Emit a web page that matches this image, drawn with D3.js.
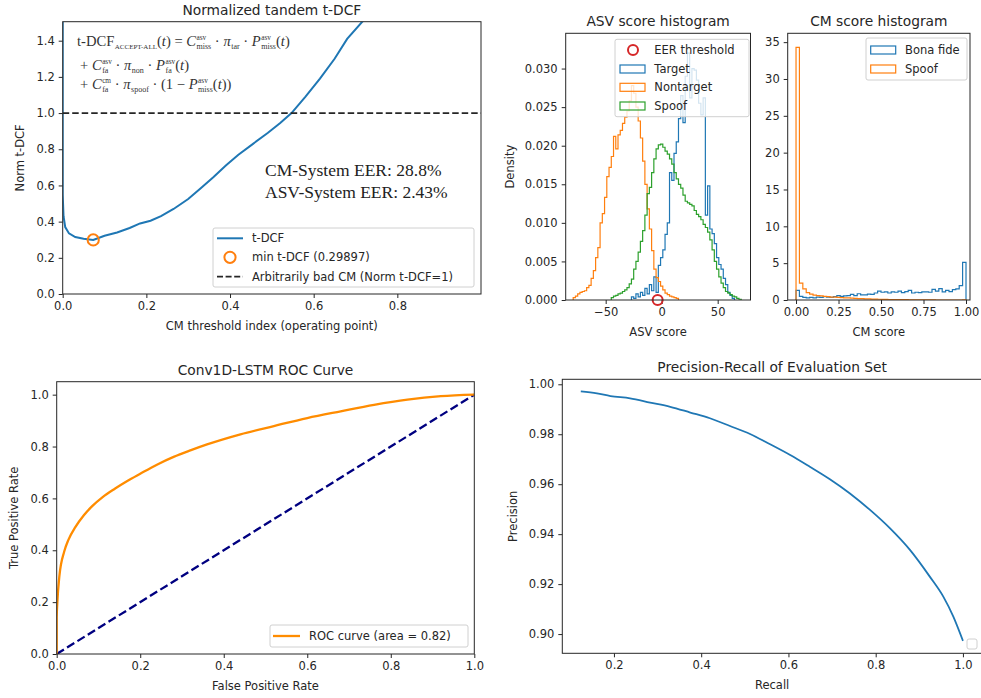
<!DOCTYPE html>
<html>
<head>
<meta charset="utf-8">
<script src="https://cdn.jsdelivr.net/npm/d3@7"></script>
<style>
body { margin: 0; background: #fff; }
svg { display: block; font-family: "DejaVu Sans", sans-serif; }
.tick text { fill: #262626; font-size: 11.5px; }
.tick line { stroke: #262626; }
.lbl { fill: #262626; font-size: 11.5px; }
.ttl { fill: #262626; font-size: 13.8px; }
</style>
</head>
<body>
<svg id="fig" width="981" height="698"></svg>
<script>
// ---- data ----
// normalized tandem t-DCF curve
const tdcfX = [0, 0, 0.002, 0.006, 0.015, 0.03, 0.05, 0.073, 0.1, 0.13, 0.16, 0.185, 0.21, 0.235, 0.265, 0.3, 0.33, 0.36, 0.39, 0.42, 0.455, 0.49, 0.52, 0.547, 0.58, 0.615, 0.65, 0.68, 0.722];
const tdcfY = [1.6, 0.55, 0.43, 0.37, 0.335, 0.315, 0.305, 0.299, 0.322, 0.34, 0.365, 0.39, 0.405, 0.43, 0.47, 0.525, 0.585, 0.645, 0.71, 0.77, 0.83, 0.89, 0.945, 1.0, 1.09, 1.19, 1.3, 1.41, 1.52];
const minTdcf = { x: 0.073, y: 0.29897 };

// ASV score histograms (density, bins of width 2)
const asvBinWidth = 2;
const targetStart = -27;
const target = [0.0004, 0.0002, 0.0008, 0.0004, 0.0010, 0.0006, 0.0015, 0.0008, 0.0020, 0.0012, 0.0030, 0.0010, 0.0045,
  0.0055, 0.0065, 0.0085, 0.0100, 0.0165, 0.0155, 0.0190, 0.0205, 0.0235, 0.0265, 0.0230, 0.0290, 0.0320, 0.0262, 0.0300, 0.0298, 0.0285, 0.0255, 0.0240, 0.0262, 0.0110,
  0.0148, 0.0092, 0.0086, 0.0073, 0.0055, 0.0046, 0.0040, 0.0028, 0.0020, 0.0010, 0.0006, 0.0002];
const nontargetStart = -79;
const nontarget = [0.0003, 0.0005, 0.0008, 0.0010, 0.0011, 0.0012, 0.0016, 0.0019, 0.0028, 0.0038, 0.0055, 0.0068, 0.0100, 0.0112, 0.0133, 0.0160, 0.0172, 0.0186, 0.0212, 0.0196,
  0.0214, 0.0220, 0.0229, 0.0237, 0.0245, 0.0258, 0.0278, 0.0268, 0.0250, 0.0232, 0.0210, 0.0180, 0.0150, 0.0118, 0.0092, 0.0064, 0.0040, 0.0029, 0.0024, 0.0018,
  0.0013, 0.0009, 0.0007, 0.0005, 0.0004, 0.0003, 0.0002];
const spoofAsvStart = -45;
const spoofAsv = [0.0003, 0.0005, 0.0006, 0.0008, 0.0009, 0.0011, 0.0013, 0.0016, 0.0021, 0.0027, 0.0040, 0.0050, 0.0062, 0.0076, 0.0090, 0.0110, 0.0138, 0.0146, 0.0165, 0.0183, 0.0196, 0.0201,
  0.0202, 0.0198, 0.0193, 0.0189, 0.0183, 0.0176, 0.0165, 0.0157, 0.0150, 0.0145, 0.0136, 0.0128, 0.0126, 0.0124, 0.0122, 0.0116, 0.0111, 0.0108, 0.0104, 0.0098, 0.0094,
  0.0088, 0.0078, 0.0065, 0.0050, 0.0040, 0.0030, 0.0022, 0.0016, 0.0011, 0.0009, 0.0007, 0.0005, 0.0004, 0.0002, 0.0001];
const eerThreshold = -3.6;

// CM score histograms (density, 50 bins on [0, 1])
const cmBinWidth = 0.02;
const bonaFide = [1.3, 0.5, 0.35, 0.3, 0.35, 0.3, 0.4, 0.35, 0.45, 0.4, 0.35, 0.45, 0.6, 0.5, 0.55, 0.6, 0.75, 0.6, 0.85, 0.7, 0.7, 0.8, 0.75, 0.95, 1.2,
  1.05, 1.1, 0.95, 1.1, 1.05, 1.2, 1.0, 1.15, 1.3, 0.95, 1.05, 1.0, 1.1, 1.1, 1.05, 1.45, 1.2, 1.55, 1.1, 1.3, 1.15, 1.4, 1.5, 1.95, 5.1];
const spoofCm = [34.3, 2.3, 1.5, 1.0, 0.8, 0.65, 0.6, 0.55, 0.5, 0.45, 0.4, 0.38, 0.35, 0.32, 0.3, 0.28, 0.25, 0.22, 0.2, 0.18, 0.16, 0.15, 0.13, 0.12, 0.1,
  0.09, 0.08, 0.07, 0.06, 0.05, 0.05, 0.04, 0.04, 0.03, 0.03, 0.02, 0.02, 0.02, 0.01, 0.01, 0.01, 0, 0, 0, 0, 0, 0, 0, 0, 0.01];

// ROC curve
const fpr = [0, 0, 0.0016, 0.0064, 0.018, 0.028, 0.045, 0.065, 0.085, 0.11, 0.14, 0.17, 0.2, 0.24, 0.28, 0.32, 0.36, 0.44, 0.52, 0.6, 0.68, 0.76, 0.84, 0.92, 1.0];
const tpr = [0, 0.14, 0.2, 0.3, 0.395, 0.44, 0.49, 0.535, 0.57, 0.605, 0.638, 0.668, 0.695, 0.73, 0.76, 0.785, 0.808, 0.847, 0.879, 0.91, 0.936, 0.961, 0.981, 0.994, 1.0];
const rocAuc = 0.82;

// precision-recall curve
const recall = [0.124, 0.161, 0.192, 0.237, 0.283, 0.329, 0.375, 0.42, 0.466, 0.512, 0.558, 0.604, 0.649, 0.695, 0.741, 0.787, 0.833, 0.879, 0.924, 0.955, 0.978, 1.0];
const precision = [0.9972, 0.9964, 0.9953, 0.9944, 0.9927, 0.991, 0.9887, 0.9864, 0.9833, 0.9801, 0.976, 0.9717, 0.967, 0.962, 0.9563, 0.9497, 0.9423, 0.9336, 0.923, 0.915, 0.907, 0.8973];

// tick values
const tdcfXTicks = [0, 0.2, 0.4, 0.6, 0.8];
const tdcfYTicks = [0, 0.2, 0.4, 0.6, 0.8, 1.0, 1.2, 1.4];
const asvXTicks = [-50, 0, 50];
const asvYTicks = [0, 0.005, 0.01, 0.015, 0.02, 0.025, 0.03];
const cmXTicks = [0, 0.25, 0.5, 0.75, 1.0];
const cmYTicks = [0, 5, 10, 15, 20, 25, 30, 35];
const unitTicks = [0, 0.2, 0.4, 0.6, 0.8, 1.0];
const recallTicks = [0.2, 0.4, 0.6, 0.8, 1.0];
const precTicks = [0.90, 0.92, 0.94, 0.96, 0.98, 1.00];

const C = { blue: "#1f77b4", orange: "#ff7f0e", green: "#2ca02c", red: "#d62728", dark: "#262626" };
const svg = d3.select("#fig");
const minus = s => s.replace("-", "\u2212");

let clipId = 0;
function makeAxes(o) {
  const x = d3.scaleLinear().domain(o.xDomain).range([o.left, o.right]);
  const y = d3.scaleLinear().domain(o.yDomain).range([o.bottom, o.top]);
  const g = svg.append("g");
  const id = "clip" + (clipId++);
  svg.append("clipPath").attr("id", id).append("rect")
    .attr("x", o.left).attr("y", o.top).attr("width", o.right - o.left).attr("height", o.bottom - o.top);
  const plot = g.append("g").attr("clip-path", `url(#${id})`);

  const xa = g.append("g").attr("transform", `translate(0,${o.bottom})`)
    .call(d3.axisBottom(x).tickValues(o.xTicks).tickFormat(d => minus(d3.format(o.xFmt)(d))).tickSize(4).tickPadding(4));
  const ya = g.append("g").attr("transform", `translate(${o.left},0)`)
    .call(d3.axisLeft(y).tickValues(o.yTicks).tickFormat(d => minus(d3.format(o.yFmt)(d))).tickSize(4).tickPadding(4));
  xa.select(".domain").remove();
  ya.select(".domain").remove();
  g.selectAll(".tick text").attr("font-family", "DejaVu Sans");

  g.append("text").attr("class", "ttl").attr("x", (o.left + o.right) / 2).attr("y", o.top - 7)
    .attr("text-anchor", "middle").text(o.title);
  g.append("text").attr("class", "lbl").attr("x", (o.left + o.right) / 2).attr("y", o.bottom + 36)
    .attr("text-anchor", "middle").text(o.xLabel);
  if (o.yLabel) {
    g.append("text").attr("class", "lbl").attr("text-anchor", "middle")
      .attr("transform", `translate(${o.yLabelX},${(o.top + o.bottom) / 2}) rotate(-90)`)
      .attr("dy", "0.35em").text(o.yLabel);
  }
  // spines on top
  const spines = svg.append("rect").attr("x", o.left).attr("y", o.top)
    .attr("width", o.right - o.left).attr("height", o.bottom - o.top)
    .attr("fill", "none").attr("stroke", C.dark).attr("stroke-width", 1);
  return { x, y, g, plot, spines };
}

function legendBox(g, x0, y0, w, h) {
  g.append("rect").attr("x", x0).attr("y", y0).attr("width", w).attr("height", h)
    .attr("rx", 2).attr("fill", "#fff").attr("fill-opacity", 0.8).attr("stroke", "#d0d0d0");
}

function stepPath(start, width, vals) {
  const pts = [[start, 0]];
  vals.forEach((v, i) => { pts.push([start + i * width, v]); pts.push([start + (i + 1) * width, v]); });
  pts.push([start + vals.length * width, 0]);
  return pts;
}

// ---------------- panel A: normalized tandem t-DCF ----------------
const A = makeAxes({
  left: 62.7, right: 481, top: 21.7, bottom: 294,
  xDomain: [0, 1.0], yDomain: [0, 1.505],
  xTicks: tdcfXTicks, yTicks: tdcfYTicks, xFmt: ".1f", yFmt: ".1f",
  title: "Normalized tandem t-DCF", xLabel: "CM threshold index (operating point)",
  yLabel: "Norm t-DCF", yLabelX: 20
});
A.plot.append("path")
  .datum(tdcfX.map((d, i) => [d, tdcfY[i]]))
  .attr("d", d3.line().x(d => A.x(d[0])).y(d => A.y(d[1])))
  .attr("fill", "none").attr("stroke", C.blue).attr("stroke-width", 2);
A.plot.append("line").attr("x1", A.x(0)).attr("x2", A.x(1.0)).attr("y1", A.y(1)).attr("y2", A.y(1))
  .attr("stroke", C.dark).attr("stroke-width", 1.8).attr("stroke-dasharray", "6.5,3");
A.plot.append("circle").attr("cx", A.x(minTdcf.x)).attr("cy", A.y(minTdcf.y)).attr("r", 5.6)
  .attr("fill", "none").attr("stroke", C.orange).attr("stroke-width", 2);

// formula (non-breaking spaces so the gaps survive)
const S = "\u00a0";
const mathG = A.g.append("g").attr("font-family", "Liberation Serif, serif").attr("fill", "#333");
function mathLine(x, y, tokens, fs) {
  let cx = x;
  tokens.forEach(tk => {
    const t = mathG.append("text").attr("x", cx).attr("y", y).attr("font-size", fs)
      .attr("font-style", tk.i ? "italic" : "normal").text(tk.t);
    const w = t.node().getComputedTextLength();
    let sw = 0;
    if (tk.sup) {
      const s = mathG.append("text").attr("x", cx + w + 0.5).attr("y", y - fs * 0.42).attr("font-size", fs * 0.5).text(tk.sup);
      sw = Math.max(sw, s.node().getComputedTextLength() + 0.5);
    }
    if (tk.sub) {
      const s = mathG.append("text").attr("x", cx + w + 0.5).attr("y", y + fs * 0.2).attr("font-size", fs * (tk.small || 0.55)).text(tk.sub);
      sw = Math.max(sw, s.node().getComputedTextLength() + 0.5);
    }
    cx += w + sw;
  });
}
const fs = 14.6;
const dot = S + "·" + S;
mathLine(77, 46, [
  { t: "t-DCF", sub: "ACCEPT-ALL", small: 0.48 }, { t: "(" }, { t: "t", i: true }, { t: ")" + S + "=" + S },
  { t: "C", i: true, sup: "asv", sub: "miss" }, { t: dot }, { t: "π", i: true, sub: "tar" }, { t: dot },
  { t: "P", i: true, sup: "asv", sub: "miss" }, { t: "(" }, { t: "t", i: true }, { t: ")" }
], fs);
mathLine(80, 70, [
  { t: "+" + S }, { t: "C", i: true, sup: "asv", sub: "fa" }, { t: dot }, { t: "π", i: true, sub: "non" }, { t: dot },
  { t: "P", i: true, sup: "asv", sub: "fa" }, { t: "(" }, { t: "t", i: true }, { t: ")" }
], fs);
mathLine(80, 89, [
  { t: "+" + S }, { t: "C", i: true, sup: "cm", sub: "fa" }, { t: dot }, { t: "π", i: true, sub: "spoof" }, { t: dot + "(1" + S + "−" + S },
  { t: "P", i: true, sup: "asv", sub: "miss" }, { t: "(" }, { t: "t", i: true }, { t: "))" }
], fs);

A.g.append("text").attr("x", 265).attr("y", 176).attr("font-family", "Liberation Serif, serif")
  .attr("font-size", 17.5).attr("fill", "#222").text("CM-System EER: 28.8%");
A.g.append("text").attr("x", 265).attr("y", 197.5).attr("font-family", "Liberation Serif, serif")
  .attr("font-size", 17.5).attr("fill", "#222").text("ASV-System EER: 2.43%");

// legend A
legendBox(A.g, 213, 228, 261, 59);
A.g.append("line").attr("x1", 217).attr("x2", 243).attr("y1", 238.3).attr("y2", 238.3).attr("stroke", C.blue).attr("stroke-width", 2);
A.g.append("circle").attr("cx", 230).attr("cy", 257.3).attr("r", 5.6).attr("fill", "none").attr("stroke", C.orange).attr("stroke-width", 2);
A.g.append("line").attr("x1", 217).attr("x2", 243).attr("y1", 276.7).attr("y2", 276.7).attr("stroke", C.dark)
  .attr("stroke-width", 1.8).attr("stroke-dasharray", "6,2.6");
[["t-DCF", 238.3], ["min t-DCF (0.29897)", 257.3], ["Arbitrarily bad CM (Norm t-DCF=1)", 276.7]].forEach(([t, yy]) =>
  A.g.append("text").attr("class", "lbl").attr("x", 252).attr("y", yy).attr("dy", "0.35em").text(t));

// ---------------- panel B: ASV score histogram ----------------
const B = makeAxes({
  left: 565.7, right: 750.5, top: 33.3, bottom: 300,
  xDomain: [-85.7, 79.3], yDomain: [0, 0.03457],
  xTicks: asvXTicks, yTicks: asvYTicks, xFmt: "d", yFmt: ".3f",
  title: "ASV score histogram", xLabel: "ASV score", yLabel: "Density", yLabelX: 510
});
const histLine = s => d3.line().x(d => s.x(d[0])).y(d => s.y(d[1]));
[[target, targetStart, C.blue], [nontarget, nontargetStart, C.orange], [spoofAsv, spoofAsvStart, C.green]].forEach(([vals, st, col]) =>
  B.plot.append("path").datum(stepPath(st, asvBinWidth, vals)).attr("d", histLine(B))
    .attr("fill", "none").attr("stroke", col).attr("stroke-width", 1.2));
B.g.append("circle").attr("cx", B.x(eerThreshold)).attr("cy", B.y(0)).attr("r", 5)
  .attr("fill", "none").attr("stroke", C.red).attr("stroke-width", 2);
legendBox(B.g, 615, 39.3, 134, 77.4);
B.g.append("circle").attr("cx", 633).attr("cy", 50).attr("r", 5).attr("fill", "none").attr("stroke", C.red).attr("stroke-width", 2);
[["Target", C.blue, 69], ["Nontarget", C.orange, 87.3], ["Spoof", C.green, 106]].forEach(([t, col, yy]) =>
  B.g.append("rect").attr("x", 620).attr("y", yy - 4).attr("width", 25).attr("height", 8)
    .attr("fill", "none").attr("stroke", col).attr("stroke-width", 1.2));
[["EER threshold", 50], ["Target", 69], ["Nontarget", 87.3], ["Spoof", 106]].forEach(([t, yy]) =>
  B.g.append("text").attr("class", "lbl").attr("x", 654.3).attr("y", yy).attr("dy", "0.35em").text(t));

// ---------------- panel C: CM score histogram ----------------
const Cp = makeAxes({
  left: 787.7, right: 970, top: 33.3, bottom: 300,
  xDomain: [-0.049, 1.0235], yDomain: [0, 36.2],
  xTicks: cmXTicks, yTicks: cmYTicks, xFmt: ".2f", yFmt: "d",
  title: "CM score histogram", xLabel: "CM score"
});
[[bonaFide, C.blue], [spoofCm, C.orange]].forEach(([vals, col]) =>
  Cp.plot.append("path").datum(stepPath(0, cmBinWidth, vals)).attr("d", histLine(Cp))
    .attr("fill", "none").attr("stroke", col).attr("stroke-width", 1.2));
legendBox(Cp.g, 866, 38, 101, 42);
[["Bona fide", C.blue, 50], ["Spoof", C.orange, 69]].forEach(([t, col, yy]) => {
  Cp.g.append("rect").attr("x", 870.7).attr("y", yy - 4).attr("width", 25).attr("height", 8)
    .attr("fill", "none").attr("stroke", col).attr("stroke-width", 1.2);
  Cp.g.append("text").attr("class", "lbl").attr("x", 905).attr("y", yy).attr("dy", "0.35em").text(t);
});

// ---------------- panel D: ROC curve ----------------
const D = makeAxes({
  left: 56.7, right: 474.3, top: 381.7, bottom: 654,
  xDomain: [0, 1], yDomain: [0, 1.05],
  xTicks: unitTicks, yTicks: unitTicks, xFmt: ".1f", yFmt: ".1f",
  title: "Conv1D-LSTM ROC Curve", xLabel: "False Positive Rate",
  yLabel: "True Positive Rate", yLabelX: 14
});
D.plot.append("line").attr("x1", D.x(0)).attr("y1", D.y(0)).attr("x2", D.x(1)).attr("y2", D.y(1))
  .attr("stroke", "navy").attr("stroke-width", 2.3).attr("stroke-dasharray", "8.5,3.7");
D.plot.append("path").datum(fpr.map((d, i) => [d, tpr[i]]))
  .attr("d", d3.line().x(d => D.x(d[0])).y(d => D.y(d[1])).curve(d3.curveMonotoneX))
  .attr("fill", "none").attr("stroke", "darkorange").attr("stroke-width", 2.3);
legendBox(D.g, 270, 625, 198, 22);
D.g.append("line").attr("x1", 273).attr("x2", 300).attr("y1", 636).attr("y2", 636).attr("stroke", "darkorange").attr("stroke-width", 2.3);
D.g.append("text").attr("class", "lbl").attr("x", 309).attr("y", 636).attr("dy", "0.35em")
  .text(`ROC curve (area = ${rocAuc.toFixed(2)})`);

// ---------------- panel E: precision-recall ----------------
const E = makeAxes({
  left: 562.3, right: 982, top: 379.3, bottom: 653.3,
  xDomain: [0.0816, 1.0437], yDomain: [0.8923, 1.002],
  xTicks: recallTicks, yTicks: precTicks, xFmt: ".1f", yFmt: ".2f",
  title: "Precision-Recall of Evaluation Set", xLabel: "Recall",
  yLabel: "Precision", yLabelX: 513
});
E.plot.append("path").datum(recall.map((d, i) => [d, precision[i]]))
  .attr("d", d3.line().x(d => E.x(d[0])).y(d => E.y(d[1])).curve(d3.curveMonotoneX))
  .attr("fill", "none").attr("stroke", C.blue).attr("stroke-width", 1.8);
// empty legend
legendBox(E.g, 967, 639, 10, 10);
</script>
</body>
</html>
